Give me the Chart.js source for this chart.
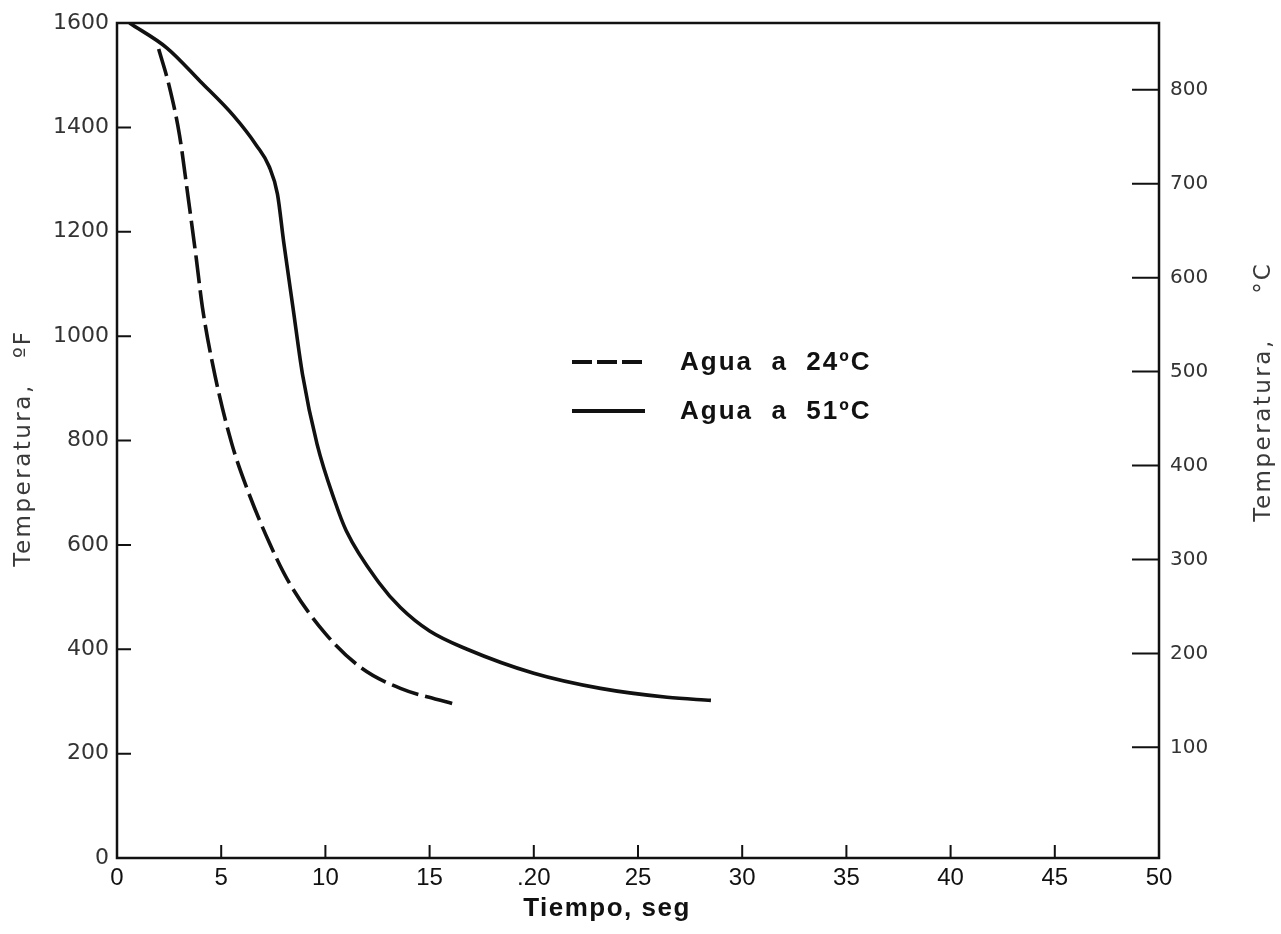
<!DOCTYPE html>
<html>
<head>
<meta charset="utf-8">
<script src="https://cdn.jsdelivr.net/npm/chart.js@4.4.1/dist/chart.umd.min.js"></script>
<style>
  html, body { margin: 0; padding: 0; background: #ffffff; }
  #wrap { width: 1281px; height: 934px; position: relative; }
  canvas { display: block; }
</style>
</head>
<body>
<div id="wrap"><canvas id="c" width="1281" height="934"></canvas></div>
<script>
// ---- Data ----
const seriesNames = ["Agua  a  24\u00BAC", "Agua  a  51\u00BAC"];

const timeAgua24 = [2.0, 2.5, 3.0, 3.4, 3.8, 4.1, 4.7, 5.5, 6.2, 7.3, 8.3, 10.0, 11.7, 13.6, 16.1];
const tempAgua24 = [1550, 1480, 1385, 1270, 1150, 1055, 925, 795, 712, 605, 525, 430, 365, 325, 296];

const timeAgua51 = [0.6, 2.4, 4.0, 5.6, 6.7, 7.3, 7.7, 8.0, 8.45, 8.9, 9.6, 10.45, 11.0, 12.6, 13.6, 15.0, 16.8, 20.0, 23.2, 26.4, 28.5];
const tempAgua51 = [1600, 1552, 1488, 1422, 1365, 1325, 1272, 1180, 1053, 927, 793, 684, 627, 526, 480, 435, 400, 354, 325, 308, 302];

const xTickValues = [0, 5, 10, 15, 20, 25, 30, 35, 40, 45, 50];
const xTickLabels = ["0", "5", "10", "15", ".20", "25", "30", "35", "40", "45", "50"];
const leftTickValues = [0, 200, 400, 600, 800, 1000, 1200, 1400, 1600];
const rightTickValues = [100, 200, 300, 400, 500, 600, 700, 800];

const xTitle = "Tiempo, seg";
const leftTitle = ["Temperatura,", "\u00BAF"];
const rightTitle = ["Temperatura,", "\u00B0C"];

// ---- Helpers ----
const toPoints = (xs, ys) => xs.map((x, i) => ({ x: x, y: ys[i] }));
const fToC = f => (f - 32) / 1.8;
const INK = '#111111';

function rotatedText(ctx, text, x, y, font, color, spacing) {
  ctx.save();
  ctx.translate(x, y);
  ctx.rotate(-Math.PI / 2);
  ctx.font = font;
  ctx.fillStyle = color;
  ctx.letterSpacing = spacing;
  ctx.textAlign = 'center';
  ctx.textBaseline = 'middle';
  ctx.fillText(text, 0, 0);
  ctx.restore();
}

const decorPlugin = {
  id: 'decor',
  afterDraw(chart) {
    const { ctx, chartArea, scales } = chart;
    const { left, right, top, bottom } = chartArea;
    ctx.save();
    ctx.strokeStyle = INK;
    ctx.lineCap = 'butt';
    // frame
    ctx.lineWidth = 2.5;
    ctx.beginPath();
    ctx.moveTo(left, bottom); ctx.lineTo(left, top); ctx.lineTo(right, top);
    ctx.lineTo(right, bottom); ctx.closePath();
    ctx.stroke();
    // inward ticks
    ctx.lineWidth = 2;
    ctx.beginPath();
    scales.x.ticks.forEach(t => {
      if (t.value <= 0 || t.value >= 50) return;
      const px = scales.x.getPixelForValue(t.value);
      ctx.moveTo(px, bottom); ctx.lineTo(px, bottom - 13);
    });
    scales.y.ticks.forEach(t => {
      if (t.value <= 0 || t.value >= 1600) return;
      const py = scales.y.getPixelForValue(t.value);
      ctx.moveTo(left, py); ctx.lineTo(left + 14, py);
    });
    scales.y2.ticks.forEach(t => {
      const py = scales.y2.getPixelForValue(t.value);
      ctx.moveTo(right - 27, py); ctx.lineTo(right, py);
    });
    ctx.stroke();

    // x title
    ctx.save();
    ctx.fillStyle = INK;
    ctx.font = 'bold 26px "Liberation Sans", Arial, sans-serif';
    ctx.letterSpacing = '1.5px';
    ctx.textAlign = 'center';
    ctx.textBaseline = 'middle';
    ctx.fillText(xTitle, 607, 909);
    ctx.restore();

    // axis titles (read bottom to top)
    const tFont = '23px "DejaVu Sans", sans-serif';
    rotatedText(ctx, leftTitle[0], 24, 475, tFont, '#3a3a3a', '2.5px');
    rotatedText(ctx, leftTitle[1], 24, 344, tFont, '#3a3a3a', '2px');
    rotatedText(ctx, rightTitle[0], 1264, 430, tFont, '#3a3a3a', '2.5px');
    rotatedText(ctx, rightTitle[1], 1264, 278, tFont, '#3a3a3a', '2px');

    // legend
    const rows = [362, 411];
    chart.data.datasets.forEach((ds, i) => {
      const y = rows[i];
      ctx.save();
      ctx.strokeStyle = INK;
      ctx.lineWidth = 4;
      ctx.setLineDash(ds.borderDash ? [20, 5] : []);
      ctx.beginPath();
      ctx.moveTo(572, y); ctx.lineTo(645, y);
      ctx.stroke();
      ctx.restore();
      ctx.save();
      ctx.fillStyle = INK;
      ctx.font = 'bold 26px "Liberation Sans", Arial, sans-serif';
      ctx.letterSpacing = '2px';
      ctx.textAlign = 'left';
      ctx.textBaseline = 'middle';
      ctx.fillText(ds.label, 680, y + 1);
      ctx.restore();
    });
    ctx.restore();
  }
};

new Chart(document.getElementById('c'), {
  type: 'line',
  data: {
    datasets: [
      {
        label: seriesNames[0],
        data: toPoints(timeAgua24, tempAgua24),
        borderColor: INK,
        borderWidth: 3.6,
        borderDash: [28, 7],
        pointRadius: 0,
        fill: false,
        tension: 0.4,
        cubicInterpolationMode: 'monotone',
        yAxisID: 'y'
      },
      {
        label: seriesNames[1],
        data: toPoints(timeAgua51, tempAgua51),
        borderColor: INK,
        borderWidth: 3.6,
        pointRadius: 0,
        fill: false,
        tension: 0.4,
        cubicInterpolationMode: 'monotone',
        yAxisID: 'y'
      }
    ]
  },
  options: {
    responsive: false,
    animation: false,
    layout: { padding: { top: 21, left: 0, right: 0, bottom: 0 } },
    plugins: {
      legend: { display: false },
      tooltip: { enabled: false }
    },
    scales: {
      x: {
        type: 'linear',
        min: 0, max: 50,
        afterBuildTicks: s => { s.ticks = xTickValues.map(v => ({ value: v })); },
        afterFit: s => { s.height = 76; },
        grid: { display: false, drawTicks: false },
        border: { display: false },
        ticks: {
          padding: 6,
          color: INK,
          font: { family: '"Liberation Sans", Arial, sans-serif', size: 24 },
          callback: (v) => { const i = xTickValues.indexOf(v); return i >= 0 ? xTickLabels[i] : ''; }
        },
        title: { display: false }
      },
      y: {
        type: 'linear',
        position: 'left',
        min: 0, max: 1600,
        afterBuildTicks: s => { s.ticks = leftTickValues.map(v => ({ value: v })); },
        afterFit: s => { s.width = 117; },
        grid: { display: false, drawTicks: false },
        border: { display: false },
        ticks: {
          padding: 8,
          color: '#333',
          font: { family: '"DejaVu Sans", sans-serif', size: 22 },
          callback: v => String(v)
        },
        title: { display: false }
      },
      y2: {
        type: 'linear',
        position: 'right',
        min: fToC(0), max: fToC(1600),
        afterBuildTicks: s => { s.ticks = rightTickValues.map(v => ({ value: v })); },
        afterFit: s => { s.width = 122; },
        grid: { display: false, drawTicks: false },
        border: { display: false },
        ticks: {
          padding: 11,
          color: '#333',
          font: { family: '"DejaVu Sans", sans-serif', size: 20 },
          callback: v => String(v)
        }
      }
    }
  },
  plugins: [decorPlugin]
});
</script>
</body>
</html>
